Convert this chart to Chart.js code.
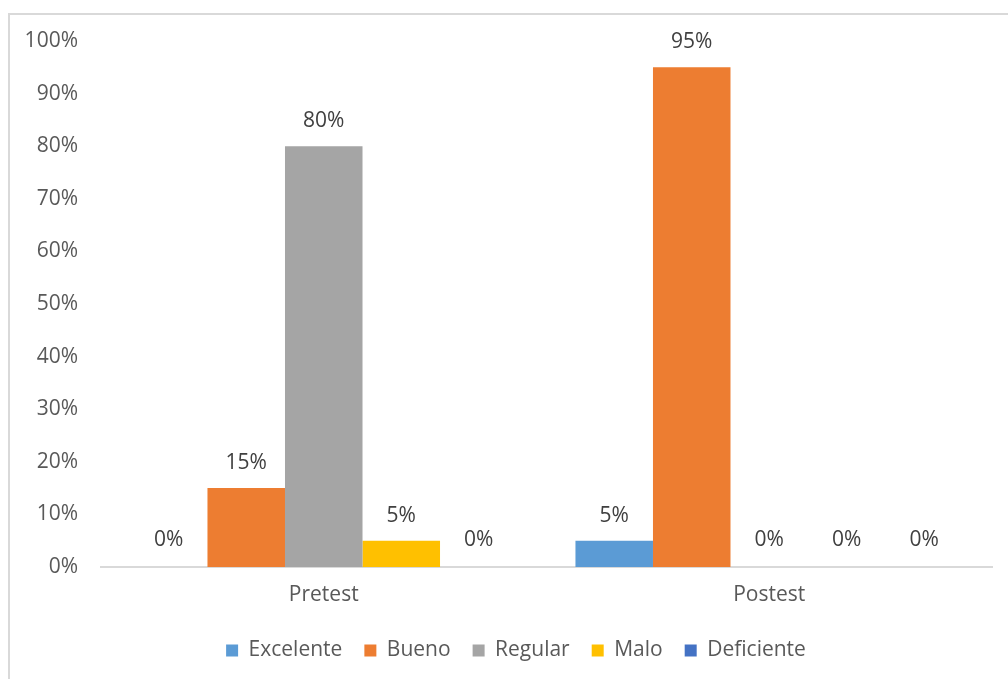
<!DOCTYPE html>
<html>
<head>
<meta charset="utf-8">
<script src="https://cdn.jsdelivr.net/npm/chart.js@4"></script>
<style>
  html, body { margin: 0; padding: 0; background: #fff; overflow: hidden; }
  #frame {
    position: absolute; left: 8px; top: 13px;
    width: 1010px; height: 680px;
    border-left: 2px solid #d9d9d9; border-top: 2px solid #d9d9d9;
  }
  #wrap { position: absolute; left: 0; top: 0; width: 1008px; height: 679px; }
</style>
</head>
<body>
<div id="frame"></div>
<div id="wrap"><canvas id="c" width="1008" height="679"></canvas></div>
<script>
// Evaluation moments and rating levels (shares of students)
const categories = ['Pretest', 'Postest'];
const levels = ['Excelente', 'Bueno', 'Regular', 'Malo', 'Deficiente'];
const excelente  = [0.00, 0.05];
const bueno      = [0.15, 0.95];
const regular    = [0.80, 0.00];
const malo       = [0.05, 0.00];
const deficiente = [0.00, 0.00];
const yTicks = [0, 0.1, 0.2, 0.3, 0.4, 0.5, 0.6, 0.7, 0.8, 0.9, 1.0];

const colors = ['#5B9BD5', '#ED7D31', '#A5A5A5', '#FFC000', '#4472C4'];
const seriesValues = [excelente, bueno, regular, malo, deficiente];

const FONT = "'Open Sans', 'DejaVu Sans', sans-serif";
const TEXT = '#595959';
const SIZE = 21;

const pct = v => Math.round(v * 100) + '%';

// Writes each bar's value above it
const valueLabels = {
  id: 'valueLabels',
  afterDatasetsDraw(chart) {
    const ctx = chart.ctx;
    ctx.save();
    ctx.font = SIZE + 'px ' + FONT;
    ctx.fillStyle = '#404040';
    ctx.textAlign = 'center';
    ctx.textBaseline = 'middle';
    chart.data.datasets.forEach((ds, i) => {
      const meta = chart.getDatasetMeta(i);
      meta.data.forEach((bar, j) => {
        const lift = ds.data[j] === 0 ? 27 : 25;
        ctx.fillText(pct(ds.data[j]), bar.x, bar.y - lift);
      });
    });
    ctx.restore();
  }
};

// Nudges the legend row a little to the right
const legendShift = {
  id: 'legendShift',
  afterLayout(chart) {
    const lg = chart.legend;
    if (lg) { lg.left += 20; lg.right += 20; }
  }
};

new Chart(document.getElementById('c'), {
  type: 'bar',
  data: {
    labels: categories,
    datasets: levels.map((name, i) => ({
      label: name,
      data: seriesValues[i],
      backgroundColor: colors[i],
      borderWidth: 0,
      categoryPercentage: 0.87,
      barPercentage: 1.0
    }))
  },
  options: {
    responsive: false,
    animation: false,
    layout: { padding: { left: 0, right: 16, top: 41, bottom: 8 } },
    plugins: {
      tooltip: { enabled: false },
      legend: {
        position: 'bottom',
        labels: {
          boxWidth: 12, boxHeight: 12,
          padding: 22,
          color: TEXT,
          font: { family: FONT, size: SIZE }
        }
      }
    },
    scales: {
      y: {
        min: 0, max: 1,
        afterFit(scale) { scale.width = 101; },
        afterBuildTicks(scale) { scale.ticks = yTicks.map(v => ({ value: v })); },
        grid: { display: false, drawTicks: false },
        border: { display: false },
        ticks: {
          padding: 23,
          color: TEXT,
          font: { family: FONT, size: SIZE },
          callback: v => pct(v)
        }
      },
      x: {
        afterFit(scale) { scale.height = 51; },
        grid: { display: false, drawTicks: false },
        border: { display: true, color: '#d9d9d9', width: 2 },
        ticks: {
          padding: 15,
          color: TEXT,
          font: { family: FONT, size: SIZE }
        }
      }
    }
  },
  plugins: [valueLabels, legendShift]
});
</script>
</body>
</html>
